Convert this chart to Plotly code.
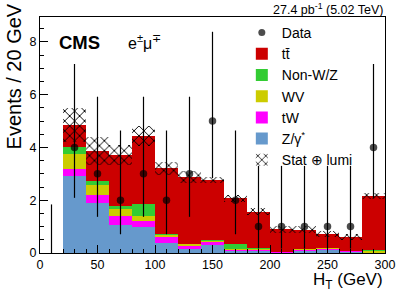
import numpy as np
import plotly.graph_objects as go

# ---- data ----
bin_edges = [0, 20, 40, 60, 80, 100, 120, 140, 160, 180, 200, 220, 240, 260, 280, 300]
bin_centers = [10, 30, 50, 70, 90, 110, 130, 150, 170, 190, 210, 230, 250, 270, 290]

z_gamma = [0.00, 2.92, 1.88, 1.06, 0.97, 0.39, 0.14, 0.29, 0.08, 0.09, 0.01, 0.09, 0.14, 0.06, 0.01]
tw      = [0.00, 0.26, 0.33, 0.35, 0.25, 0.22, 0.12, 0.11, 0.06, 0.05, 0.03, 0.05, 0.04, 0.02, 0.02]
wv      = [0.00, 0.56, 0.37, 0.24, 0.17, 0.10, 0.09, 0.08, 0.02, 0.04, 0.01, 0.01, 0.01, 0.01, 0.05]
non_wz  = [0.00, 0.29, 0.14, 0.14, 0.47, 0.02, 0.01, 0.01, 0.17, 0.01, 0.00, 0.00, 0.00, 0.00, 0.04]
ttbar   = [0.00, 0.83, 1.16, 1.93, 2.57, 2.48, 2.52, 2.27, 1.74, 1.38, 0.85, 0.73, 0.53, 0.52, 2.05]
unc_half = [0.00, 0.65, 0.53, 0.37, 0.38, 0.25, 0.22, 0.12, 0.13, 0.13, 0.13, 0.13, 0.13, 0.10, 0.11]

data      = [0, 4, 3, 2, 3, 2, 3, 5, 2, 1, 1, 1, 1, 1, 4]
data_up   = [1.84, 3.16, 2.92, 2.64, 2.92, 2.64, 2.92, 3.38, 2.64, 2.30, 2.30, 2.30, 2.30, 2.30, 3.16]
data_down = [0.00, 1.91, 1.63, 1.29, 1.63, 1.29, 1.63, 2.16, 1.29, 0.83, 0.83, 0.83, 0.83, 0.83, 1.91]

FONT = "Liberation Sans, Arial, Helvetica, sans-serif"
bin_width = 20

stack = [
    ("Z/γ<sup>*</sup>", z_gamma, "#6699cc", 6),
    ("tW", tw, "#ff00ff", 5),
    ("WV", wv, "#cccc00", 4),
    ("Non-W/Z", non_wz, "#33cc33", 3),
    ("tt\u0304", ttbar, "#cc0000", 2),
]

fig = go.Figure()
base = np.zeros(len(bin_centers))
for name, vals, color, rank in stack:
    v = np.array(vals)
    fig.add_trace(go.Bar(
        x=bin_centers, y=v, base=base.copy(), width=bin_width,
        name=name, marker=dict(color=color, line=dict(width=0)),
        legendrank=rank, hoverinfo="skip",
    ))
    base = base + v

total = base
unc = np.array(unc_half)
fig.add_trace(go.Bar(
    x=bin_centers, y=2 * unc, base=total - unc, width=bin_width,
    name="Stat ⊕ lumi",
    marker=dict(color="rgba(0,0,0,0)", line=dict(width=0),
                pattern=dict(shape="x", fgcolor="black", fgopacity=1, size=7,
                             solidity=0.25, fillmode="overlay")),
    legendrank=7, hoverinfo="skip",
))

marker_sizes = [0 if d == 0 else 7.5 for d in data]
fig.add_trace(go.Scatter(
    x=bin_centers, y=data, mode="markers", name="Data",
    marker=dict(color="black", size=marker_sizes, symbol="circle",
                line=dict(color="black", width=0)),
    error_y=dict(type="data", symmetric=False, array=data_up, arrayminus=data_down,
                 color="black", thickness=1.2, width=0),
    legendrank=1, cliponaxis=False, hoverinfo="skip",
))

axis_common = dict(showline=True, linecolor="black", linewidth=1, mirror=True,
                   ticks="inside", tickcolor="black", showgrid=False, zeroline=False,
                   tickfont=dict(family=FONT, size=12.5, color="black"))

fig.update_layout(
    width=407, height=292,
    margin=dict(l=40, r=12, t=17, b=39),
    paper_bgcolor="white", plot_bgcolor="white",
    barmode="overlay", bargap=0,
    font=dict(family=FONT, color="black"),
    xaxis=dict(range=[0, 300], dtick=50, ticklen=8,
               minor=dict(dtick=10, ticklen=4, ticks="inside", tickcolor="black"),
               **axis_common),
    yaxis=dict(range=[0, 8.94], dtick=2, ticklen=8,
               minor=dict(dtick=0.5, ticklen=4, ticks="inside", tickcolor="black"),
               **axis_common),
    legend=dict(x=0.585, y=1.0, xanchor="left", yanchor="top",
                bgcolor="rgba(0,0,0,0)", font=dict(family=FONT, size=14),
                tracegroupgap=0, itemwidth=30),
    showlegend=True,
    annotations=[
        dict(text="<b>CMS</b>", x=0.05, y=0.894, xref="paper", yref="paper",
             xanchor="left", yanchor="middle", showarrow=False,
             font=dict(family=FONT, size=18.5)),
        dict(text="e<sup>±</sup>μ<sup>∓</sup>", x=0.25, y=0.894, xref="paper", yref="paper",
             xanchor="left", yanchor="middle", showarrow=False,
             font=dict(family=FONT, size=16)),
        dict(text="27.4 pb<sup>-1</sup> (5.02 TeV)", x=1.0, y=1.034, xref="paper", yref="paper",
             xanchor="right", yanchor="middle", showarrow=False,
             font=dict(family=FONT, size=12.5)),
        dict(text="H<sub>T</sub> (GeV)", x=1.0, y=-0.12, xref="paper", yref="paper",
             xanchor="right", yanchor="middle", showarrow=False,
             font=dict(family=FONT, size=17)),
        dict(text="Events / 20 GeV", x=-0.076, y=1.065, xref="paper", yref="paper",
             xanchor="center", yanchor="top", textangle=-90, showarrow=False,
             font=dict(family=FONT, size=20)),
    ],
)

fig.write_html("out.html", config={"displayModeBar": False},
               post_script="document.body.style.margin='0px';")
